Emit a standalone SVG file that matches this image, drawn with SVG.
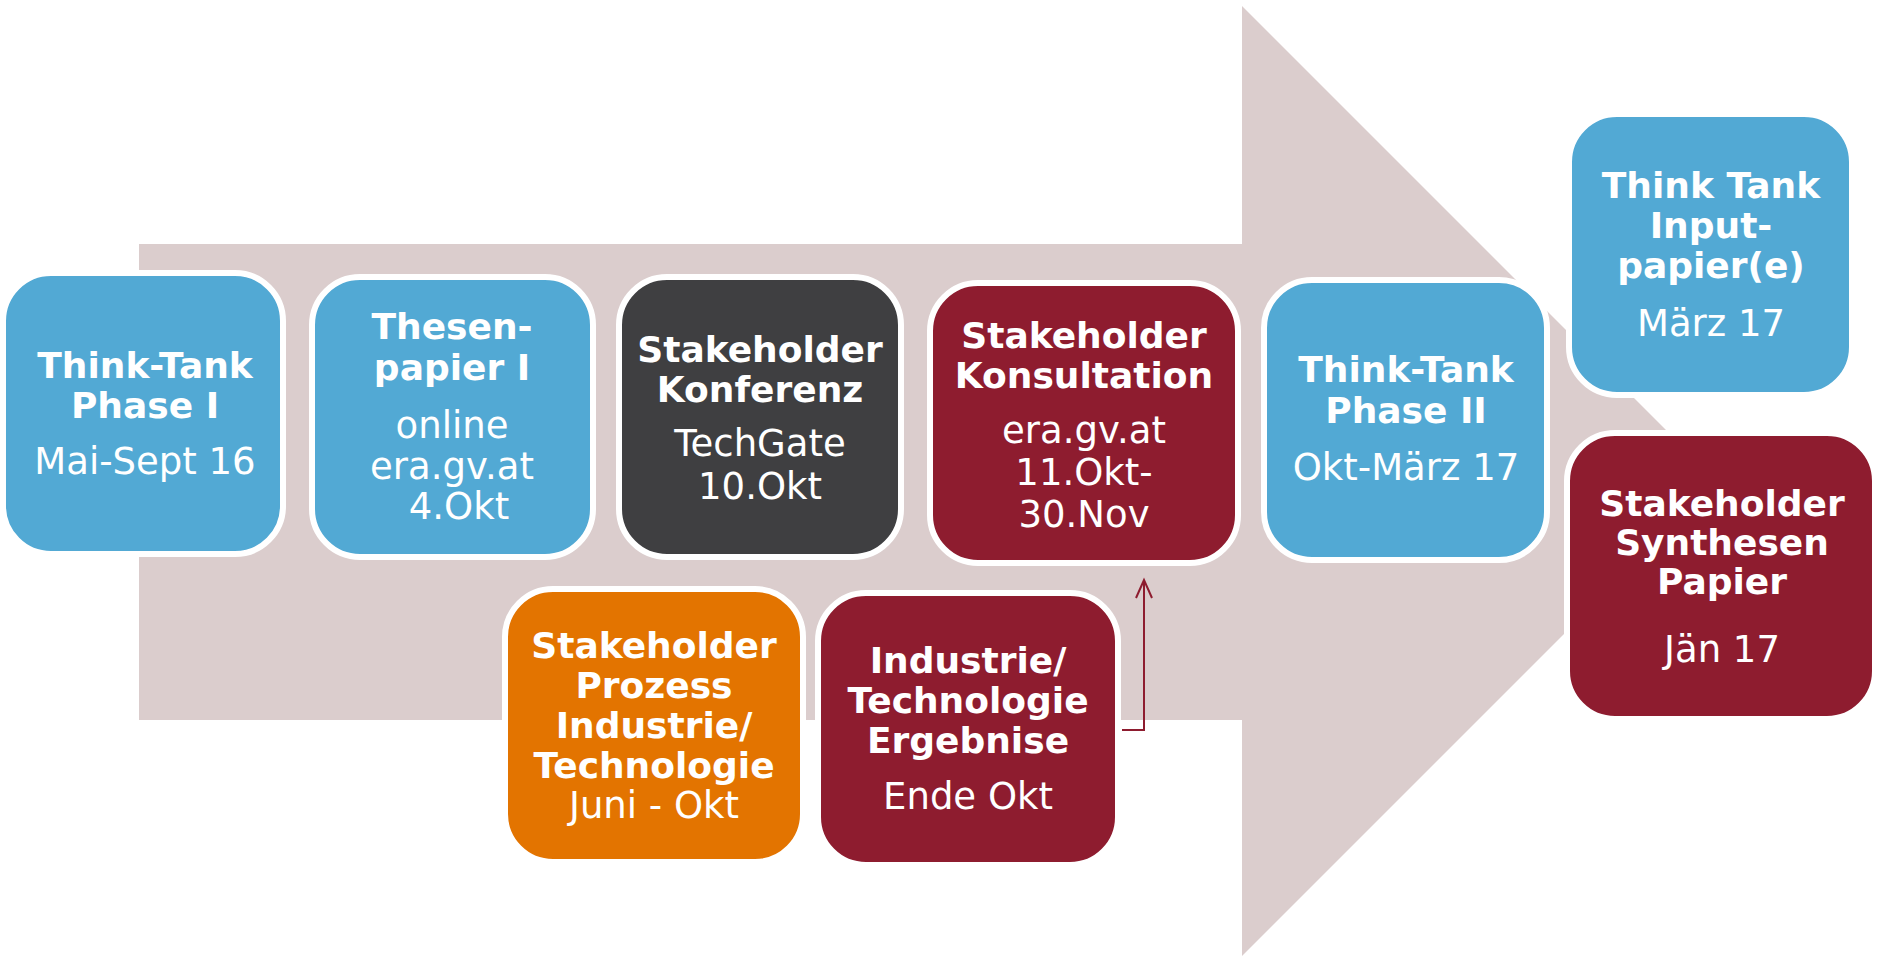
<svg xmlns="http://www.w3.org/2000/svg" width="1878" height="956" viewBox="0 0 1878 956">
<defs>
<style>
.box{stroke:#ffffff;stroke-width:6}
.blue{fill:#52A9D4}
.dark{fill:#3F3F41}
.red{fill:#8E1C2F}
.orange{fill:#E37400}
text{font-family:"DejaVu Sans","Verdana",sans-serif;fill:#ffffff;text-anchor:middle;font-size:37px}
.b{font-weight:bold;font-size:36px}
.conn{fill:none;stroke:#8E1C2F;stroke-width:2}
</style>
<marker id="open" markerWidth="24" markerHeight="24" refX="20" refY="10" orient="auto" markerUnits="userSpaceOnUse">
<path d="M2,2 L20,10 L2,18" fill="none" stroke="#8E1C2F" stroke-width="2"/>
</marker>
</defs>
<rect width="1878" height="956" fill="#ffffff"/>
<g id="arrow">
<polygon points="139,244 1242,244 1242,6 1717,481 1242,956 1242,720 139,720" fill="#DBCDCD"/>
</g>
<g id="connectors">
<polyline class="conn" points="1122,730 1144,730 1144,580" marker-end="url(#open)"/>
</g>
<g id="n1">
<rect class="box blue" x="3" y="273" width="280" height="281" rx="48"/>
<text class="b" x="145" y="378">Think-Tank</text>
<text class="b" x="145" y="418">Phase I</text>
<text x="145" y="474">Mai-Sept 16</text>
</g>
<g id="n2">
<rect class="box blue" x="312" y="277" width="281" height="280" rx="48"/>
<text class="b" x="452" y="339">Thesen-</text>
<text class="b" x="452" y="380">papier I</text>
<text x="452" y="438">online</text>
<text x="452" y="479">era.gv.at</text>
<text x="459" y="519">4.Okt</text>
</g>
<g id="n3">
<rect class="box dark" x="619" y="277" width="282" height="280" rx="48"/>
<text class="b" x="760" y="362">Stakeholder</text>
<text class="b" x="760" y="402">Konferenz</text>
<text x="760" y="456">TechGate</text>
<text x="760" y="499">10.Okt</text>
</g>
<g id="n4">
<rect class="box red" x="930" y="283" width="308" height="280" rx="48"/>
<text class="b" x="1084" y="348">Stakeholder</text>
<text class="b" x="1084" y="388">Konsultation</text>
<text x="1084" y="443">era.gv.at</text>
<text x="1084" y="485">11.Okt-</text>
<text x="1084" y="527">30.Nov</text>
</g>
<g id="n5">
<rect class="box blue" x="1264" y="280" width="283" height="280" rx="48"/>
<text class="b" x="1406" y="382">Think-Tank</text>
<text class="b" x="1406" y="423">Phase II</text>
<text x="1406" y="480">Okt-März 17</text>
</g>
<g id="n6">
<rect class="box blue" x="1569" y="114" width="283" height="281" rx="48"/>
<text class="b" x="1711" y="198">Think Tank</text>
<text class="b" x="1711" y="238">Input-</text>
<text class="b" x="1711" y="278">papier(e)</text>
<text x="1711" y="336">März 17</text>
</g>
<g id="n7">
<rect class="box red" x="1567" y="433" width="308" height="286" rx="48"/>
<text class="b" x="1722" y="516">Stakeholder</text>
<text class="b" x="1722" y="555">Synthesen</text>
<text class="b" x="1722" y="594">Papier</text>
<text x="1722" y="662">Jän 17</text>
</g>
<g id="n8">
<rect class="box orange" x="505" y="589" width="298" height="273" rx="48"/>
<text class="b" x="654" y="658">Stakeholder</text>
<text class="b" x="654" y="698">Prozess</text>
<text class="b" x="654" y="738">Industrie/</text>
<text class="b" x="654" y="778">Technologie</text>
<text x="654" y="818">Juni - Okt</text>
</g>
<g id="n9">
<rect class="box red" x="818" y="593" width="300" height="272" rx="48"/>
<text class="b" x="968" y="673">Industrie/</text>
<text class="b" x="968" y="713">Technologie</text>
<text class="b" x="968" y="753">Ergebnise</text>
<text x="968" y="809">Ende Okt</text>
</g>
</svg>
